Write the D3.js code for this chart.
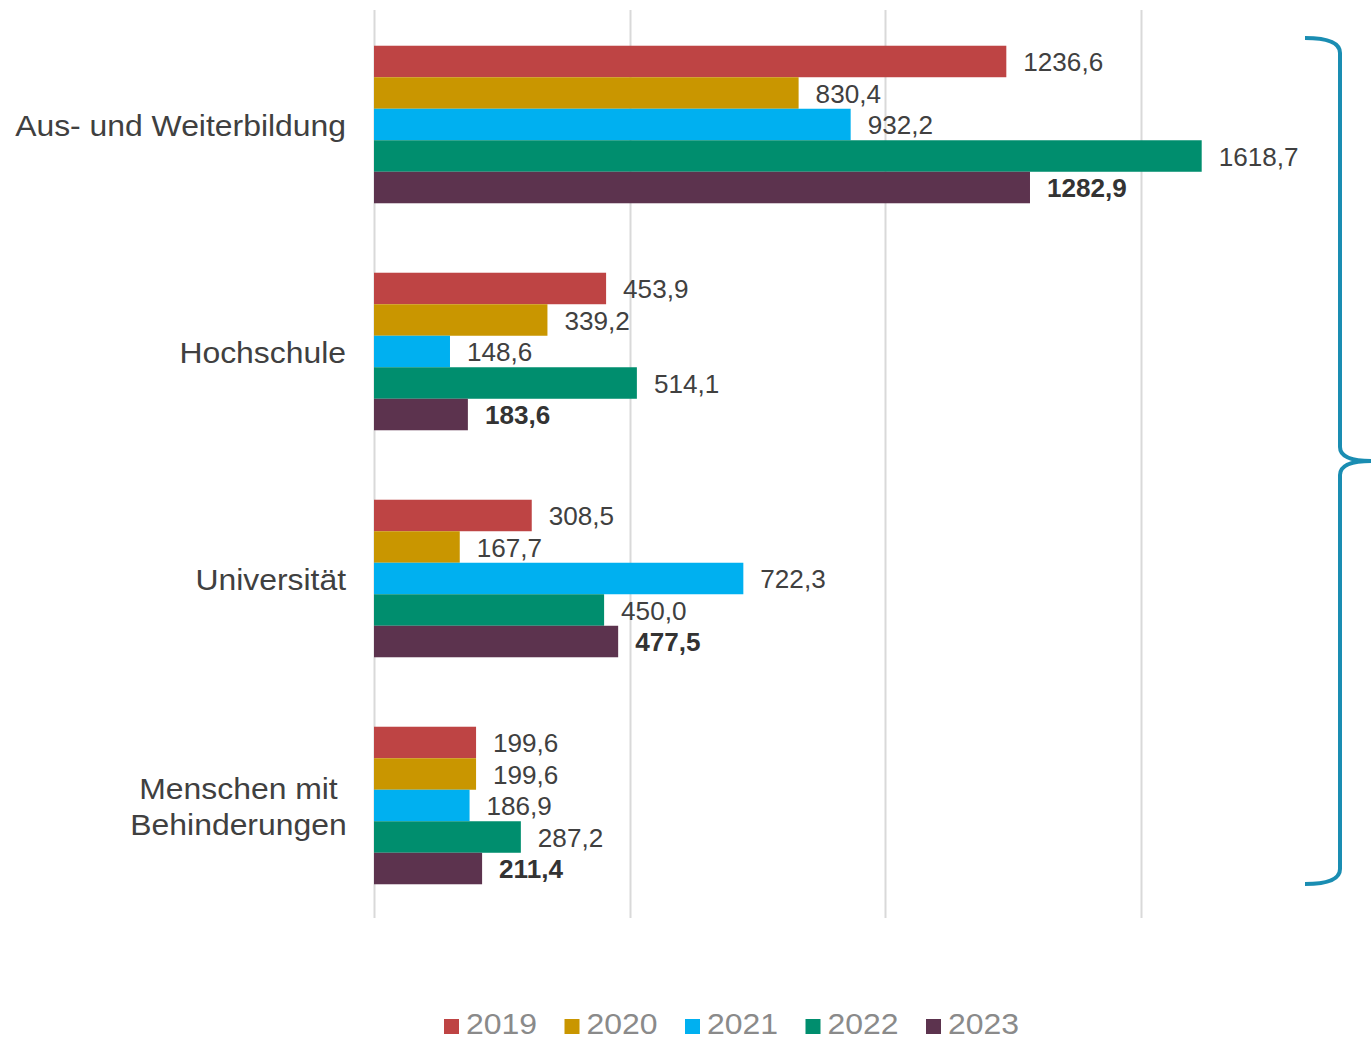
<!DOCTYPE html>
<html><head><meta charset="utf-8">
<script src="https://cdn.jsdelivr.net/npm/d3@7"></script>
<style>body{margin:0;background:#fff}svg{display:block}</style>
</head><body>
<script>
const categories = ["Aus- und Weiterbildung", "Hochschule", "Universität", "Menschen mit Behinderungen"];
const years = ["2019", "2020", "2021", "2022", "2023"];
const values2019 = [1236.6, 453.9, 308.5, 199.6];
const values2020 = [830.4, 339.2, 167.7, 199.6];
const values2021 = [932.2, 148.6, 722.3, 186.9];
const values2022 = [1618.7, 514.1, 450.0, 287.2];
const values2023 = [1282.9, 183.6, 477.5, 211.4];
const xTicks = [0, 500, 1000, 1500];
const colors = ["#BE4444", "#C99600", "#00B0F0", "#008E6E", "#5C334E"];

const series = [values2019, values2020, values2021, values2022, values2023];
const W = 1371, H = 1041;
const svg = d3.select("body").append("svg").attr("width", W).attr("height", H);
const font = "'Liberation Sans', Arial, sans-serif";

// text helper with slight horizontal stretch to match reference glyph widths
function label(parent, tx, ty, txt, opts) {
  const g = parent.append("g").attr("transform", `translate(${tx},${ty}) scale(${opts.sx},1)`);
  return g.append("text").attr("x", 0).attr("y", 0)
    .attr("text-anchor", opts.anchor || "start")
    .attr("dominant-baseline", "central")
    .attr("font-family", font).attr("font-size", opts.size)
    .attr("font-weight", opts.weight || "normal")
    .attr("fill", opts.fill).text(txt);
}

const x = d3.scaleLinear().domain([0, 1500]).range([374, 1141]);
const pi = 0.306;
const y = d3.scaleBand().domain(categories).range([11, 919]).paddingInner(pi).paddingOuter(pi / 2);
const yi = d3.scaleBand().domain(years).range([0, y.bandwidth()]);

// gridlines
svg.append("g").selectAll("line").data(xTicks).join("line")
  .attr("x1", d => Math.round(x(d)) + 0.5).attr("x2", d => Math.round(x(d)) + 0.5)
  .attr("y1", 10).attr("y2", 918)
  .attr("stroke", "#d9d9d9").attr("stroke-width", 2);

// bars
const fmt = v => v.toFixed(1).replace(".", ",");
categories.forEach((c, ci) => {
  const g = svg.append("g").attr("transform", `translate(0,${y(c)})`);
  years.forEach((yr, si) => {
    const v = series[si][ci];
    g.append("rect").attr("x", x(0)).attr("y", yi(yr))
      .attr("width", x(v) - x(0)).attr("height", yi.bandwidth())
      .attr("fill", colors[si]);
    label(g, x(v) + 17, yi(yr) + yi.bandwidth() / 2 + 1, fmt(v), {
      sx: 1.045, size: 25,
      weight: si === 4 ? "bold" : "normal",
      fill: si === 4 ? "#333" : "#404040"
    });
  });
});

// category labels
categories.forEach(c => {
  const cy = y(c) + y.bandwidth() / 2;
  if (c === "Menschen mit Behinderungen") {
    label(svg, 238.5, cy - 17, "Menschen mit", {sx: 1.10, size: 29, anchor: "middle", fill: "#404040"});
    label(svg, 238.5, cy + 19, "Behinderungen", {sx: 1.10, size: 29, anchor: "middle", fill: "#404040"});
  } else {
    label(svg, 346, cy + 1, c, {sx: 1.10, size: 29, anchor: "end", fill: "#404040"});
  }
});

// brace
svg.append("path")
  .attr("d", "M1305,38 Q1340,38 1340,53 L1340,447 Q1340,461 1372,461 Q1340,461 1340,475 L1340,869 Q1340,884 1305,884")
  .attr("fill", "none").attr("stroke", "#1A8DB2").attr("stroke-width", 4);

// legend
const leg = svg.append("g");
years.forEach((yr, i) => {
  const lx = 444 + i * 120.5;
  leg.append("rect").attr("x", lx).attr("y", 1019).attr("width", 15).attr("height", 15).attr("fill", colors[i]);
  label(leg, lx + 22, 1024, yr, {sx: 1.065, size: 30, fill: "#8a8a8a"});
});
</script>
</body></html>
